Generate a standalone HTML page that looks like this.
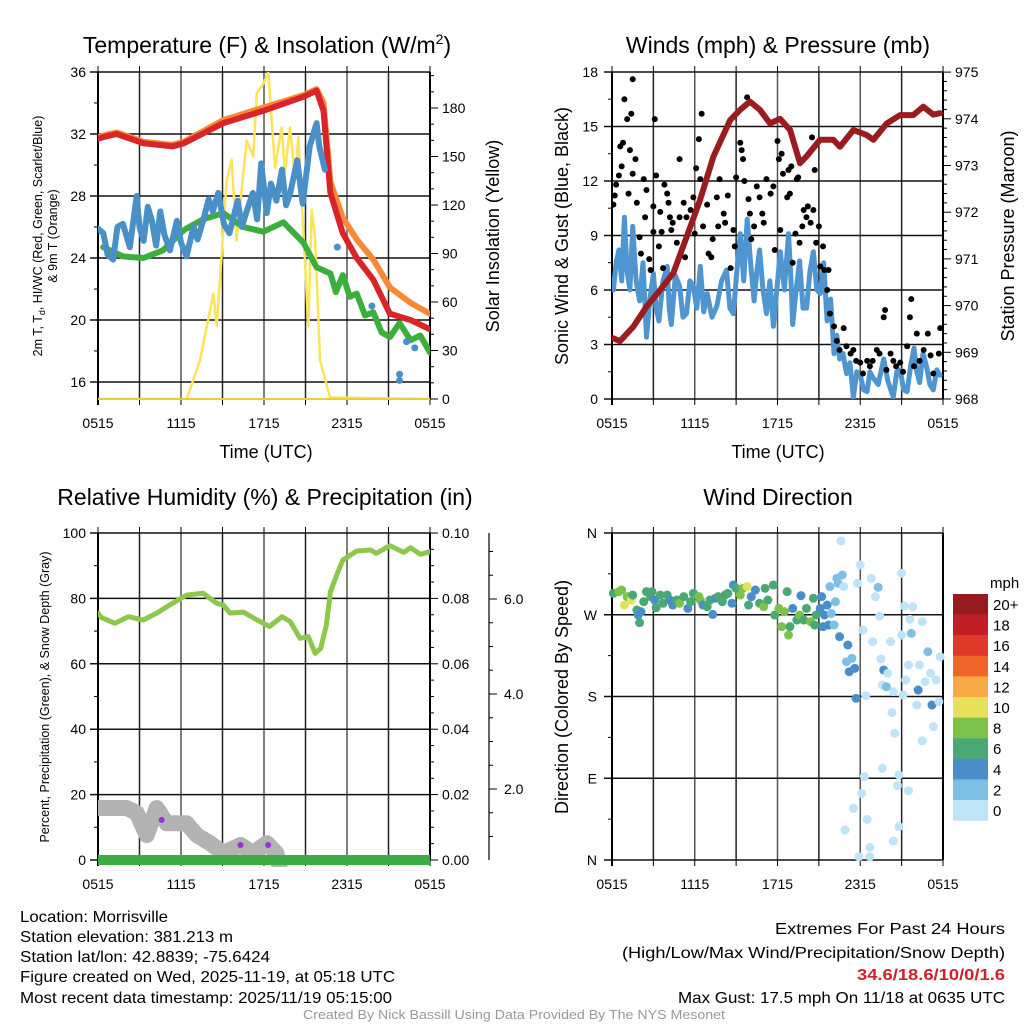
<!DOCTYPE html>
<html><head><meta charset="utf-8"><style>
body{margin:0;background:#fff;}
svg{display:block;font-family:"Liberation Sans",sans-serif;}
</style></head><body>
<svg id="chart" width="1024" height="1024" viewBox="0 0 1024 1024" xmlns="http://www.w3.org/2000/svg">
<defs>
<clipPath id="c1"><rect x="98" y="72" width="332" height="327"/></clipPath>
<clipPath id="c2"><rect x="612" y="72" width="331" height="327"/></clipPath>
<clipPath id="c3"><rect x="98" y="533" width="332" height="334"/></clipPath>
<clipPath id="c4"><rect x="605" y="526" width="345" height="341"/></clipPath>
</defs>
<g id="titles" font-size="23" text-anchor="middle" fill="#000">
<text x="267" y="53">Temperature (F) &amp; Insolation (W/m<tspan font-size="14" dy="-9">2</tspan><tspan dy="9">)</tspan></text>
<text x="778" y="53">Winds (mph) &amp; Pressure (mb)</text>
<text x="265" y="505">Relative Humidity (%) &amp; Precipitation (in)</text>
<text x="778" y="505">Wind Direction</text>
</g>
<g id="p1"></g><g id="p2"></g><g id="p3"></g><g id="p4"></g>
<g font-size="18" text-anchor="middle">
<text x="266" y="458">Time (UTC)</text>
<text x="778" y="458">Time (UTC)</text>
<text transform="translate(499,236) rotate(-90)">Solar Insolation (Yellow)</text>
<text transform="translate(568,236) rotate(-90)">Sonic Wind &amp; Gust (Blue, Black)</text>
<text transform="translate(1014,236) rotate(-90)">Station Pressure (Maroon)</text>
<text transform="translate(568,697) rotate(-90)">Direction (Colored By Speed)</text>
</g>
<g font-size="12.5" text-anchor="middle">
<text transform="translate(42,236) rotate(-90)">2m T, T<tspan font-size="9" dy="3">d</tspan><tspan dy="-3">, HI/WC (Red, Green, Scarlet/Blue)</tspan></text>
<text transform="translate(57,236) rotate(-90)">&amp; 9m T (Orange)</text>
<text transform="translate(49,697) rotate(-90)">Percent, Precipitation (Green), &amp; Snow Depth (Gray)</text>
</g>
<g font-size="16" fill="#000">
<text x="20" y="922" textLength="148" lengthAdjust="spacingAndGlyphs">Location: Morrisville</text>
<text x="20" y="942" textLength="213" lengthAdjust="spacingAndGlyphs">Station elevation: 381.213 m</text>
<text x="20" y="962" textLength="250" lengthAdjust="spacingAndGlyphs">Station lat/lon: 42.8839; -75.6424</text>
<text x="20" y="982" textLength="375" lengthAdjust="spacingAndGlyphs">Figure created on Wed, 2025-11-19, at 05:18 UTC</text>
<text x="20" y="1003" textLength="372" lengthAdjust="spacingAndGlyphs">Most recent data timestamp: 2025/11/19 05:15:00</text>
<g text-anchor="end">
<text x="1005" y="934" textLength="230" lengthAdjust="spacingAndGlyphs">Extremes For Past 24 Hours</text>
<text x="1005" y="958" textLength="383" lengthAdjust="spacingAndGlyphs">(High/Low/Max Wind/Precipitation/Snow Depth)</text>
<text x="1005" y="980" fill="#d0202a" font-weight="bold" textLength="148" lengthAdjust="spacingAndGlyphs">34.6/18.6/10/0/1.6</text>
<text x="1005" y="1003" textLength="327" lengthAdjust="spacingAndGlyphs">Max Gust: 17.5 mph On 11/18 at 0635 UTC</text>
</g>
<text x="514" y="1019" font-size="13" fill="#999" text-anchor="middle" textLength="422" lengthAdjust="spacingAndGlyphs">Created By Nick Bassill Using Data Provided By The NYS Mesonet</text>
</g>
<g id="cbar"></g>
</svg>
<script>
// ---- Panel 1 data ----
const redT=[0,0.38,1.35,3.3,5.4,6.2,9.06,11.95,14.84,15.8,16.3,16.8,17.7,18.7,19.9,21.1,22.6,24];
const redV=[31.7,31.8,32.0,31.4,31.2,31.4,32.7,33.5,34.4,34.8,33.5,28.2,25.6,24.0,22.6,20.4,20.0,19.4];
const orangeT=[0,0.38,1.35,3.3,5.4,6.2,9.06,11.95,14.84,15.8,16.3,16.8,17.7,18.7,19.9,21.1,22.6,24];
const orangeV=[31.8,31.9,32.1,31.5,31.3,31.5,32.9,33.7,34.5,34.9,34.0,28.9,26.6,25.2,23.9,22.1,21.1,20.4];
const greenT=[0.38,1.8,3.3,4.7,6.2,7.6,9.06,10.5,11.95,13.4,14.84,15.8,16.8,17.2,17.7,18.2,18.7,19.3,19.9,20.5,21.1,21.8,22.6,23.3,24];
const greenV=[24.7,24.1,24.0,24.5,25.8,26.5,26.9,26.0,25.7,26.3,25.0,23.4,23.0,21.8,22.9,21.5,21.7,20.3,20.5,19.2,18.9,19.8,18.7,19.0,17.9];
const blueT=[0,0.38,0.7,1.1,1.4,1.8,2.3,2.8,3.0,3.3,3.6,3.9,4.2,4.5,4.8,5.2,5.7,6.0,6.4,6.9,7.2,7.6,8.0,8.3,8.7,9.1,9.5,10.1,10.4,10.7,11.2,11.5,11.8,12.2,12.5,12.9,13.3,13.6,13.9,14.4,14.8,15.3,15.8,16.0,16.4];
const blueV=[25.9,25.6,24.2,23.9,26.0,26.2,24.7,28.0,26.0,25.1,27.3,26.4,24.8,27.0,25.5,24.5,26.4,25.0,24.1,26.0,25.2,26.4,27.8,27.0,28.2,26.2,25.6,27.7,26.0,26.9,28.2,26.5,30.1,26.9,28.8,27.7,29.7,27.4,28.2,30.3,27.5,31.2,32.7,31.2,29.7];
const blueDotT=[17.3,19.8,21.8,21.8,22.3,22.9];
const blueDotV=[24.7,20.9,16.5,16.1,18.6,18.2];
const solarT=[0,6.41,7.37,8.34,8.58,9.30,9.66,10.02,10.75,11.23,11.47,11.95,12.31,12.8,13.28,13.52,13.88,14.24,14.48,14.96,15.2,15.45,15.69,16.05,16.77,24];
const solarV=[0,0,24,65,45,135,148,98,160,150,189,195,202,143,168,140,168,137,162,86,45,117,100,24,1,0];
const tempTicks=[16,20,24,28,32,36];
const solarTicks=[0,30,60,90,120,150,180];
const timeLabels=["0515","1115","1715","2315","0515"];
// ---- Panel 2 data ----
const presT=[0.10,0.58,1.55,2.51,3.48,4.45,5.41,6.38,7.35,8.56,9.28,10.0,10.73,11.46,12.18,12.91,13.63,14.12,15.08,16.05,16.53,17.5,18.47,18.95,19.92,20.88,21.85,22.57,23.3,23.78];
const presV=[969.3,969.24,969.55,969.98,970.33,970.7,971.47,972.26,973.19,973.97,974.19,974.37,974.19,973.9,974.0,973.76,973.05,973.2,973.55,973.55,973.4,973.76,973.65,973.55,973.9,974.08,974.08,974.26,974.09,974.12];
const windT=[0.1,0.3,0.5,0.7,0.9,1.1,1.3,1.5,1.75,2.0,2.25,2.5,2.75,3.0,3.2,3.4,3.7,4.0,4.15,4.3,4.6,4.9,5.15,5.4,5.65,5.9,6.15,6.4,6.65,6.9,7.25,7.6,7.95,8.3,8.55,8.8,9.05,9.3,9.55,9.8,10.05,10.3,10.5,10.7,10.95,11.2,11.45,11.7,11.95,12.2,12.5,12.8,12.95,13.1,13.35,13.6,13.85,14.1,14.35,14.6,14.85,15.1,15.35,15.6,15.85,16.1,16.3,16.5,16.75,17.0,17.25,17.5,17.75,18.0,18.25,18.5,18.7,18.9,19.3,19.7,20.0,20.4,20.65,20.9,21.15,21.4,21.65,21.9,22.1,22.3,22.55,22.8,23.05,23.3,23.55,23.8];
const windV=[6.0,7.5,8.2,6.5,10.0,7.0,6.0,9.5,6.5,5.4,7.5,3.4,5.5,6.9,5.0,4.3,6.5,7.3,5.0,4.1,6.8,6.2,4.5,4.7,6.5,6.2,5.0,7.3,4.8,5.8,4.5,5.1,6.5,7.1,5.0,4.7,7.0,9.1,6.5,9.9,7.5,5.4,7.0,8.2,6.0,4.7,6.5,4.0,6.0,8.1,6.0,9.1,7.0,4.1,6.0,7.6,5.0,5.0,7.0,8.1,6.0,5.8,7.5,4.3,5.5,2.5,3.5,2.2,2.5,1.4,2.0,0.1,1.5,1.3,0.5,0.4,1.5,1.2,0.8,2.2,1.0,0.1,1.5,1.6,0.5,0.4,1.8,2.8,1.5,0.9,2.5,1.8,0.8,0.5,1.6,1.3];
const gustT=[0.1,0.2,0.3,0.5,0.6,0.7,0.8,0.9,1.1,1.2,1.3,1.4,1.5,1.5,1.7,1.8,2.0,2.1,2.3,2.4,2.5,2.7,2.8,3.0,3.0,3.1,3.2,3.4,3.5,3.6,3.7,3.8,4.0,4.1,4.2,4.3,4.4,4.7,4.9,4.9,5.2,5.3,5.4,5.7,5.9,6.0,6.1,6.3,6.4,6.5,6.6,6.9,7.0,7.2,7.3,7.6,7.7,7.8,8.1,8.2,8.4,8.6,8.8,8.9,9.0,9.3,9.4,9.5,9.6,9.8,9.9,10.0,10.1,10.3,10.5,10.7,10.9,11.0,11.2,11.5,11.7,11.8,12.0,12.1,12.2,12.3,12.4,12.7,12.8,12.9,13.0,13.1,13.3,13.4,13.5,13.6,13.8,13.9,14.1,14.2,14.4,14.5,14.6,14.7,14.8,15.0,15.1,15.3,15.4,15.6,15.7,15.8,16.1,16.3,16.5,16.8,17.0,17.3,17.5,17.7,18.0,18.2,18.5,18.7,18.9,19.2,19.4,19.7,19.8,19.9,20.2,20.4,20.6,20.9,21.1,21.4,21.6,21.7,21.9,22.1,22.3,22.6,22.9,23.1,23.3,23.7,23.8];
const gustV=[10.7,11.2,11.8,12.3,13.9,12.8,14.1,16.5,15.4,11.3,13.7,15.7,17.6,12.4,13.2,10.8,8.9,8.0,12.1,10.0,11.5,7.7,7.1,9.2,10.6,15.4,12.3,8.4,10.3,9.2,7.2,11.8,11.3,10.8,10.0,9.3,9.7,8.6,13.2,10.0,10.8,7.8,10.0,10.4,11.1,9.1,12.7,14.3,12.1,15.7,9.5,10.7,8.0,7.8,8.8,11.1,9.5,12.1,10.2,9.7,11.2,7.2,9.3,8.4,12.2,14.1,13.7,13.2,12.0,16.6,11.0,10.2,8.8,9.5,11.7,11.1,10.2,9.7,12.1,11.3,11.7,8.2,14.2,13.2,9.3,13.5,12.4,11.1,12.6,11.3,12.8,7.5,9.1,12.1,12.2,8.6,9.5,10.4,10.0,10.6,9.7,14.4,10.4,12.6,8.6,9.5,7.3,8.4,7.1,6.0,7.1,4.7,4.0,3.2,2.7,3.9,2.9,2.5,2.7,2.1,2.0,1.4,2.1,1.8,2.1,2.7,2.5,4.5,4.9,1.6,2.5,2.1,1.8,2.0,1.5,2.9,4.5,5.5,1.8,3.6,2.1,2.7,3.6,2.4,1.4,2.5,3.9];
const windTicks=[0,3,6,9,12,15,18];
const presTicks=[968,969,970,971,972,973,974,975];
// ---- Panel 3 data ----
const rhT=[0,0.26,1.23,2.19,3.28,4.24,5.2,6.4,7.6,8.58,9.06,9.54,10.5,11.5,12.4,13.3,13.9,14.6,15.2,15.7,16.1,16.5,16.8,17.3,17.7,18.7,19.7,20.1,21.1,22.1,22.6,23.3,24];
const rhV=[75.5,74.1,72.4,74.4,73.4,75.5,78.0,81.0,81.6,78.5,78.0,75.5,75.8,73.4,71.4,74.4,72.9,67.8,68.3,63.2,64.7,71.8,82.0,87.6,91.7,94.5,94.8,93.8,96.1,94.1,95.5,93.5,94.3];
const snowT=[0.14,2.07,2.79,3.52,4.24,4.96,6.4,7.13,8.1,9.06,10.3,11.2,12.2,12.9,13.4];
const snowV=[1.6,1.6,1.5,1.03,1.6,1.28,1.28,1.03,0.86,0.65,0.82,0.65,0.86,0.65,0];
const precipT=[0,24];
const precipV=[0,0];
const rhTicks=[0,20,40,60,80,100];
const precipTicks=["0.00","0.02","0.04","0.06","0.08","0.10"];
const snowTicks=["2.0","4.0","6.0"];
// ---- Panel 4 data ----
const dirT=[0.1,0.5,0.7,0.9,1.1,1.4,1.5,1.8,1.9,2.0,2.1,2.3,2.5,2.8,2.9,3.1,3.2,3.5,3.7,4.0,4.2,4.4,4.7,4.9,5.2,5.5,5.7,5.9,6.3,6.4,6.6,6.9,7.1,7.3,7.5,7.7,8.0,8.2,8.4,8.7,8.8,9.0,9.3,9.5,9.8,9.9,10.1,10.4,10.7,11.0,11.1,11.3,11.7,11.8,12.1,12.3,12.5,12.7,12.8,12.9,13.1,13.4,13.6,13.7,13.9,14.1,14.4,14.6,14.7,14.8,15.1,15.2,15.3,15.4,15.6,15.7,15.8,15.9,16.1,16.2,16.3,16.4,16.5,16.7,16.8,17.0,17.1,17.2,17.4,17.6,17.7,16.6,18.0,17.8,18.2,18.4,18.8,18.9,19.1,19.3,19.4,19.5,19.6,19.7,19.9,20.0,20.2,20.3,20.4,20.5,20.8,21.0,21.0,21.1,21.2,21.3,21.5,21.6,21.7,21.8,22.1,22.2,22.3,22.5,22.5,22.7,22.9,23.1,23.2,23.3,23.5,23.7,23.8,19.6,18.3,18.1,17.5,16.9,18.5,18.7,17.9,18.7,20.4,20.8,21.5,20.7];
const dirV=[293.6,295.4,297.2,280.7,289.9,286.2,291.7,275.2,269.7,261.3,273.4,284.4,295.4,289.9,295.4,286.2,277.8,291.7,282.6,291.7,286.2,280.7,286.2,282.6,289.9,277.0,284.4,293.6,289.9,286.2,280.7,278.9,286.2,270.4,288.1,289.9,284.4,291.7,293.6,282.6,302.7,299.1,291.7,299.1,300.9,280.7,289.9,297.2,282.6,278.9,299.1,286.2,302.7,269.7,277.0,256.9,273.4,295.4,247.7,256.9,277.0,264.2,269.7,291.0,264.2,277.0,262.4,288.1,258.7,269.7,277.0,289.9,256.9,269.7,280.7,258.7,300.9,271.5,258.7,284.4,310.1,304.6,245.9,313.8,300.9,218.3,236.7,207.3,222.0,211.0,178.0,351.2,324.8,304.6,253.2,180.9,310.1,240.4,289.9,300.2,268.6,221.3,192.6,209.2,190.8,205.5,240.4,162.2,185.3,139.4,93.6,315.6,247.7,181.6,279.6,198.1,214.7,265.0,249.5,278.9,170.6,187.1,214.7,262.4,131.3,196.3,229.3,205.5,170.6,146.8,198.1,174.3,223.8,100.9,91.7,73.4,56.9,33.0,44.7,13.9,3.6,3.6,20.9,36.7,76.3,81.8];
const dirSpd=[7,9,9,11,9,11,7,7,5,7,5,7,7,7,7,5,7,7,7,7,5,5,7,9,7,5,7,7,9,9,5,7,7,5,5,7,7,7,7,5,5,7,9,9,11,7,5,5,7,9,7,7,7,7,9,9,9,7,9,7,5,7,9,5,7,7,9,7,7,7,5,5,5,5,5,5,3,3,3,3,3,3,5,3,1,3,5,5,3,5,5,1,1,1,1,1,1,1,1,3,1,1,1,5,3,1,1,1,1,1,1,1,1,1,1,1,1,1,3,1,1,5,1,1,1,1,3,1,5,1,1,1,1,1,1,1,1,1,1,1,1,1,1,1,1,1];
const dirTicks=["N","E","S","W","N"];
const cbarLabels=["20+","18","16","14","12","10","8","6","4","2","0"];
const cbarColors=["#971a1e","#c21e26","#e0392b","#f0652b","#f7a946","#e8e05a","#7cc24a","#4aa874","#4a8ec9","#7ebfe6","#bfe4f7"];

const NS="http://www.w3.org/2000/svg";
function mk(parent,tag,attrs){const e=document.createElementNS(NS,tag);for(const k in attrs)e.setAttribute(k,attrs[k]);parent.appendChild(e);return e;}
function path(ts,vs,xf,yf){let d="";let pen=false;for(let i=0;i<ts.length;i++){if(vs[i]==null){pen=false;continue;}d+=(pen?"L":"M")+xf(ts[i]).toFixed(1)+","+yf(vs[i]).toFixed(1);pen=true;}return d;}

function frame(g,x0,y0,w,h,yTicksPx,minorPx){
  for(let k=0;k<=8;k++){const x=x0+k*w/8;
    const gl=mk(g,"line",{x1:x,y1:y0,x2:x,y2:y0+h,stroke:k%2?"#222":"#555","stroke-width":1.5});
    
    
    mk(g,"line",{x1:x,y1:y0-6,x2:x,y2:y0,stroke:"#000","stroke-width":1});
    mk(g,"line",{x1:x,y1:y0+h,x2:x,y2:y0+h+6,stroke:"#000","stroke-width":1});
  }
  yTicksPx.forEach(y=>{const gl=mk(g,"line",{x1:x0-8,y1:y,x2:x0+w,y2:y,stroke:"#111","stroke-width":1.5});
    
    });
  minorPx.forEach(y=>mk(g,"line",{x1:x0-4,y1:y,x2:x0,y2:y,stroke:"#000","stroke-width":1}));
  mk(g,"line",{x1:x0,y1:y0,x2:x0,y2:y0+h+6,stroke:"#000","stroke-width":2});
  mk(g,"line",{x1:x0+w,y1:y0,x2:x0+w,y2:y0+h,stroke:"#000","stroke-width":2});
  timeLabels.forEach((s,i)=>{const t=mk(g,"text",{x:x0+i*w/4,y:y0+h+29,"font-size":14,"text-anchor":"middle"});t.textContent=s;
    
    });
}
function rightAxis(g,x,vals,yf,labels,minorVals){
  vals.forEach((v,i)=>{const y=yf(v);mk(g,"line",{x1:x,y1:y,x2:x+8,y2:y,stroke:"#000","stroke-width":1});
    const t=mk(g,"text",{x:x+12,y:y+5,"font-size":14});t.textContent=labels[i];
    
    });
  (minorVals||[]).forEach(v=>{const y=yf(v);mk(g,"line",{x1:x,y1:y,x2:x+4,y2:y,stroke:"#000","stroke-width":1});});
}
function leftLabels(g,x,vals,yf,labels){
  vals.forEach((v,i)=>{const t=mk(g,"text",{x:x,y:yf(v)+5,"font-size":14,"text-anchor":"end"});t.textContent=labels[i];
    
    });
}

// Panel 1
(function(){
  const g=document.getElementById("p1");const x0=98,y0=72,w=332,h=327;
  const xs=t=>x0+t/24*w;const yT=v=>72+(36-v)*15.5;const yS=v=>399-v/30*48.5;
  const minors=[];for(let v=18;v<=34;v+=4)minors.push(yT(v));
  frame(g,x0,y0,w,h,tempTicks.map(yT),minors);
  leftLabels(g,86,tempTicks,yT,tempTicks.map(String));
  const sm=[];for(let v=10;v<=200;v+=10)if(v%30)sm.push(v);
  rightAxis(g,430,solarTicks,yS,solarTicks.map(String),sm);
  const c=mk(g,"g",{"clip-path":"url(#c1)",fill:"none","stroke-linejoin":"round","stroke-linecap":"round"});
  let e;
  e=mk(c,"path",{d:path(solarT,solarV,xs,yS),stroke:"#fde35a","stroke-width":2.5});
  
  
  e=mk(c,"path",{d:path(greenT,greenV,xs,yT),stroke:"#3cae3c","stroke-width":6});
  
  
  e=mk(c,"path",{d:path(orangeT,orangeV,xs,yT),stroke:"#f88a35","stroke-width":6});
  
  
  e=mk(c,"path",{d:path(redT,redV,xs,yT),stroke:"#d9242a","stroke-width":6});
  
  
  e=mk(c,"path",{d:path(blueT,blueV,xs,yT),stroke:"#4a90c8","stroke-width":6});
  
  
  blueDotT.forEach((t,i)=>{const d=mk(c,"circle",{cx:xs(t),cy:yT(blueDotV[i]),r:3.5,fill:"#4a90c8"});
    
    });
  mk(g,"line",{x1:98,y1:399,x2:430,y2:399,stroke:"#e8cf3a","stroke-width":2});
})();

// Panel 2
(function(){
  const g=document.getElementById("p2");const x0=612,y0=72,w=331,h=327;
  const xs=t=>x0+t/24*w;const yW=v=>399-v*18.17;const yP=v=>399-(v-968)*46.7;
  const minors=[];for(let v=1.5;v<18;v+=3)minors.push(yW(v));
  frame(g,x0,y0,w,h,windTicks.map(yW),minors);
  leftLabels(g,598,windTicks,yW,windTicks.map(String));
  const pm=[];for(let v=968.2;v<975;v+=0.2)if(Math.abs(v-Math.round(v))>0.05)pm.push(v);
  rightAxis(g,943,presTicks,yP,presTicks.map(String),pm);
  const c=mk(g,"g",{"clip-path":"url(#c2)",fill:"none","stroke-linejoin":"round","stroke-linecap":"round"});
  let e=mk(c,"path",{d:path(windT,windV,xs,yW),stroke:"#4f96d0","stroke-width":5});
  
  
  gustT.forEach((t,i)=>{const d=mk(c,"circle",{cx:xs(t),cy:yW(gustV[i]),r:3,fill:"#000"});
    
    });
  e=mk(c,"path",{d:path(presT,presV,xs,yP),stroke:"#9a1c1f","stroke-width":6});
  
  
})();

// Panel 3
(function(){
  const g=document.getElementById("p3");const x0=98,y0=533,w=332,h=327;
  const xs=t=>x0+t/24*w;const yR=v=>860-v*3.27;const ySn=v=>884-v*47.5;
  const minors=[];for(let v=10;v<100;v+=20)minors.push(yR(v));
  frame(g,x0,y0,w,h,rhTicks.map(yR),minors);
  leftLabels(g,86,rhTicks,yR,rhTicks.map(String));
  const pv=[0,20,40,60,80,100];const pmin=[];for(let v=5;v<100;v+=5)if(v%20)pmin.push(v);
  rightAxis(g,430,pv,yR,precipTicks,pmin);
  mk(g,"line",{x1:489,y1:533,x2:489,y2:860,stroke:"#000","stroke-width":1.2});
  [2,4,6].forEach((v,i)=>{const y=ySn(v);mk(g,"line",{x1:489,y1:y,x2:497,y2:y,stroke:"#000"});
    const t=mk(g,"text",{x:504,y:y+5,"font-size":14});t.textContent=snowTicks[i];
    
    });
  for(let v=0.5;v<7.5;v+=0.5){if(v%2){const y=ySn(v);if(y<860)mk(g,"line",{x1:489,y1:y,x2:493,y2:y,stroke:"#000"});}}
  const c=mk(g,"g",{"clip-path":"url(#c3)",fill:"none","stroke-linejoin":"round","stroke-linecap":"round"});
  let e=mk(c,"path",{d:path(snowT,snowV,xs,ySn),stroke:"#b3b3b3","stroke-width":16});
  
  
  e=mk(c,"path",{d:path(rhT,rhV,xs,yR),stroke:"#8cc84b","stroke-width":5});
  
  
  e=mk(c,"path",{d:path(precipT,precipV,xs,yR),stroke:"#3cac44","stroke-width":10});
  
  
  [[4.6,1.35],[10.3,0.82],[12.3,0.82]].forEach(p=>{const d=mk(c,"circle",{cx:xs(p[0]),cy:ySn(p[1]),r:3,fill:"#9b30e0"});
    
    });
})();

// Panel 4
(function(){
  const g=document.getElementById("p4");const x0=612,y0=533,w=331,h=327;
  const xs=t=>x0+t/24*w;const yD=v=>860-v/360*327;
  const minors=[];for(let v=45;v<360;v+=90)minors.push(yD(v));
  frame(g,x0,y0,w,h,[0,90,180,270,360].map(yD),minors);
  leftLabels(g,597,[0,90,180,270,360],yD,dirTicks);
  const c=mk(g,"g",{"clip-path":"url(#c4)"});
  const col=s=>cbarColors[10-Math.min(10,Math.floor(s/2))];
  dirT.forEach((t,i)=>{const d=mk(c,"circle",{cx:xs(t),cy:yD(dirV[i]),r:4.5,fill:col(dirSpd[i])});
    
    });
  const cb=document.getElementById("cbar");
  const mt=mk(cb,"text",{x:990,y:588,"font-size":15});mt.textContent="mph";
  
  
  cbarLabels.forEach((s,i)=>{const y=594+i*20.6;
    const r=mk(cb,"rect",{x:953,y:y,width:35,height:20.8,fill:cbarColors[i]});
    
    
    const t=mk(cb,"text",{x:993,y:y+16,"font-size":15});t.textContent=s;
    
    });
})();
</script>
</body></html>
